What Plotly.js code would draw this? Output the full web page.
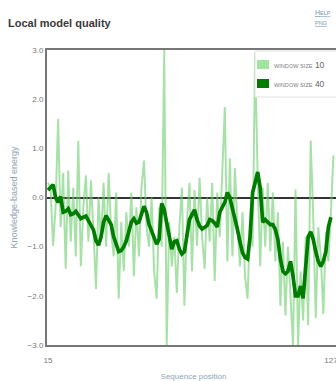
<!DOCTYPE html>
<html>
<head>
<meta charset="utf-8">
<script src="https://cdn.plot.ly/plotly-3.0.1.min.js"></script>
<style>
html,body{margin:0;padding:0;background:#fff;overflow:hidden;}
#chart{width:345px;height:381px;}
</style>
</head>
<body>
<div id="chart"></div>
<script>
// First residue of each series
const firstResidue = 15;
// Tick labels on the x axis
const xTickVals = [15, 127];
const yTickVals = [3, 2, 1, 0, -1, -2, -3];

// Window size 10 (light green), residues 15..128
const window10 = [
  0.3, 0.2, -0.98, -0.2, 1.6, -0.6, 0.5, -1.45, 0.55, -0.9,
  0.2, -1.2, 1.15, -1.4, -0.2, 0.45, -0.9, 0.35, -0.7, -1.86,
  0.0, -0.9, 0.3, -1.0, 0.5, -0.7, -1.2, 0.1, -2.06, -0.5,
  -1.5, -0.3, -1.0, 0.1, -1.6, -0.2, -1.2, 0.2, 0.75, -0.6,
  -1.0, 0.0, -1.5, -2.06, -0.2, -1.0, 3.0, -3.0, -0.5, -1.4,
  -0.8, -1.94, -0.6, 0.2, -2.2, -0.5, 0.3, -1.5, 0.15, -0.98,
  0.4, -0.8, -1.45, 0.0, -0.9, 0.3, -1.7, 0.1, -0.8, 0.5,
  1.84, -1.3, 0.8, -1.2, 0.6, -0.6, -1.4, -0.3, -1.6, -2.06,
  -0.5, -1.0, 2.95, 0.4, -1.4, 0.2, -1.0, 0.3, -1.1, 0.1,
  -1.3, -0.3, -2.2, -0.9, -2.4, -1.0, -1.9, -3.0, 0.16, -3.0,
  -1.5, -2.5, -0.8, -2.6, 1.16, -0.4, -2.45, -0.6, -1.2, -2.37,
  -0.7, -1.3, -0.3, 0.86
];

// Window size 40 (dark green), residues 15..127
const window40 = [
  0.15, 0.22, 0.26, 0.0, -0.1, 0.02, -0.3, -0.28, -0.23, -0.35,
  -0.33, -0.28, -0.35, -0.43, -0.4, -0.38, -0.47, -0.55, -0.66, -0.88,
  -0.97, -0.8, -0.5, -0.37, -0.45, -0.55, -0.8, -0.98, -1.1, -1.08,
  -1.0, -0.88, -0.7, -0.5, -0.43, -0.52, -0.5, -0.35, -0.18, -0.3,
  -0.55, -0.68, -0.84, -0.95, -0.85, -0.12, -0.25, -0.55, -0.8, -1.05,
  -0.9, -0.88, -1.05, -1.15, -1.1, -0.75, -0.45, -0.35, -0.25, -0.45,
  -0.58, -0.64, -0.6, -0.57, -0.45, -0.47, -0.52, -0.6, -0.3, -0.2,
  -0.1, 0.1, 0.0, -0.22, -0.42, -0.65, -0.9, -1.12, -1.22, -1.25,
  -0.8, 0.1, 0.3, 0.52, 0.2, -0.5, -0.45, -0.5, -0.55, -0.55,
  -0.65, -0.85, -1.25, -1.5, -1.55, -1.5, -1.3, -1.6, -2.0, -2.0,
  -1.8, -2.05, -1.5, -0.8, -0.7, -0.85, -1.1, -1.3, -1.4, -1.3,
  -1.1, -0.6, -0.4
];

const seriesLabels = ['WINDOW SIZE', 'WINDOW SIZE'];
const seriesWindows = ['10', '40'];
const seriesColors = ['rgba(110,205,110,0.6)', '#007d00'];
const swatchColors = ['rgb(160,228,160)', '#007d00'];

const residues10 = window10.map((_, i) => firstResidue + i);
const residues40 = window40.map((_, i) => firstResidue + i);

const traces = [
  {x: residues10, y: window10, type: 'scatter', mode: 'lines',
   line: {color: seriesColors[0], width: 2}, showlegend: false, hoverinfo: 'none'},
  {x: residues40, y: window40, type: 'scatter', mode: 'lines',
   line: {color: seriesColors[1], width: 3.7}, showlegend: false, hoverinfo: 'none'}
];

// plot area in pixels: x 47..340, y 50..345
const W = 345, H = 381, L = 47, R = 5, T = 50, B = 36;
const PW = W - L - R, PH = H - T - B;
const px = v => (v - L) / PW;
const py = v => (H - B - v) / PH;

const shapes = [
  {type: 'rect', xref: 'paper', yref: 'paper', x0: px(255), x1: px(352), y0: py(97), y1: py(51),
   fillcolor: '#fff', line: {color: '#e2e2e2', width: 1}, layer: 'above'}
];
const annotations = [];
const rowsY = [64.5, 83.5];
for (let i = 0; i < 2; i++) {
  shapes.push({type: 'rect', xref: 'paper', yref: 'paper', x0: px(257), x1: px(269),
    y0: py(rowsY[i] + 4.5), y1: py(rowsY[i] - 4.5), fillcolor: swatchColors[i],
    line: {width: 0}, layer: 'above'});
  annotations.push({text: '<span style="font-size:5.6px;fill:#808080">' + seriesLabels[i] +
      '</span> ' + seriesWindows[i],
    xref: 'paper', yref: 'paper', x: px(272), y: py(rowsY[i]), xanchor: 'left', yanchor: 'middle',
    showarrow: false, font: {size: 8.5, color: '#666'}});
}
annotations.push(
  {text: '<u><span style="font-size:7px">H</span><span style="font-size:5.5px">ELP</span></u>',
   xref: 'paper', yref: 'paper', x: px(313), y: py(13), xanchor: 'left', yanchor: 'middle',
   showarrow: false, font: {color: '#6f98b0', size: 7}},
  {text: '<u><span style="font-size:5.5px">PNG</span></u>',
   xref: 'paper', yref: 'paper', x: px(313), y: py(23), xanchor: 'left', yanchor: 'middle',
   showarrow: false, font: {color: '#6f98b0', size: 6}}
);

const layout = {
  width: W, height: H,
  margin: {l: L, r: R, t: T, b: B},
  paper_bgcolor: '#fff', plot_bgcolor: '#fff',
  font: {family: 'Liberation Sans, Arial, sans-serif', color: '#777', size: 8},
  title: {text: 'Local model quality', x: 8 / W, xref: 'container', xanchor: 'left',
          y: 1 - 23 / H, yref: 'container', yanchor: 'middle',
          font: {size: 11, color: '#3a3a3a', family: 'Liberation Sans, Arial, sans-serif', weight: 'bold'}},
  showlegend: false,
  xaxis: {range: [14.6, 130.6], tickvals: xTickVals, ticktext: xTickVals.map(String),
          showline: true, mirror: true, linecolor: '#777', linewidth: 2,
          showgrid: false, zeroline: false, ticks: '', ticklabelstandoff: 6,
          tickfont: {size: 8, color: '#777'},
          title: {text: 'Sequence position', font: {size: 8, color: '#8ea4b4'}, standoff: 18}},
  yaxis: {range: [-3, 3], tickvals: yTickVals, tickformat: '.1f',
          showline: true, mirror: true, linecolor: '#777', linewidth: 2,
          showgrid: false, zeroline: true, zerolinecolor: '#333', zerolinewidth: 2,
          ticks: '', tickfont: {size: 8, color: '#777'},
          title: {text: 'Knowledge-based energy', font: {size: 9, color: '#8ea4b4'}, standoff: 8}},
  shapes: shapes,
  annotations: annotations
};

Plotly.newPlot('chart', traces, layout, {displayModeBar: false, staticPlot: true});
</script>
</body>
</html>
